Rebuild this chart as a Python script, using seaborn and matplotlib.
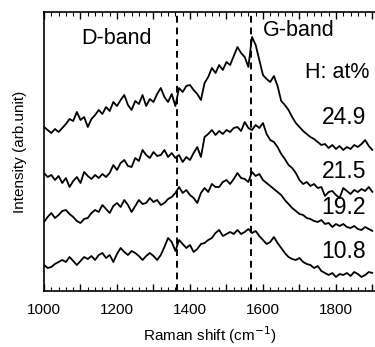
import matplotlib
matplotlib.use("Agg")
import matplotlib.pyplot as plt
import seaborn as sns
import pandas as pd
from matplotlib.ticker import MultipleLocator, FuncFormatter

# Raman shift sample positions (cm^-1), shared by all spectra
wavenumber = [1000, 1010, 1020, 1030, 1040, 1050, 1060, 1070, 1080, 1090,
              1100, 1110, 1120, 1130, 1140, 1150, 1160, 1170, 1180, 1190,
              1200, 1210, 1220, 1230, 1240, 1250, 1260, 1270, 1280, 1290,
              1300, 1310, 1320, 1330, 1340, 1350, 1360, 1370, 1380, 1390,
              1400, 1410, 1420, 1430, 1440, 1450, 1460, 1470, 1480, 1490,
              1500, 1510, 1520, 1530, 1540, 1550, 1560, 1570, 1580, 1590,
              1600, 1610, 1620, 1630, 1640, 1650, 1660, 1670, 1680, 1690,
              1700, 1710, 1720, 1730, 1740, 1750, 1760, 1770, 1780, 1790,
              1800, 1810, 1820, 1830, 1840, 1850, 1860, 1870, 1880, 1890,
              1900]

# intensities (arb. unit, already offset for stacking)
h249 = [164, 161, 158, 162, 159, 163, 167, 172, 170, 179,
        171, 174, 164, 172, 176, 181, 177, 184, 180, 189,
        185, 191, 196, 186, 181, 190, 187, 196, 185, 192,
        189, 197, 203, 194, 189, 197, 185, 203, 199, 205,
        206, 201, 197, 191, 208, 214, 223, 218, 226, 221,
        229, 226, 235, 244, 238, 234, 224, 254, 246, 231,
        216, 212, 209, 215, 205, 190, 186, 181, 174, 168,
        164, 160, 157, 154, 152, 149, 146, 147, 143, 146,
        142, 145, 141, 144, 142, 146, 144, 147, 151, 145,
        141]
h215 = [118, 114, 116, 111, 115, 108, 113, 104, 110, 114,
        108, 119, 115, 112, 116, 113, 117, 114, 118, 126,
        121, 128, 131, 125, 124, 133, 130, 141, 136, 133,
        139, 135, 136, 141, 134, 138, 133, 136, 129, 134,
        131, 138, 144, 134, 154, 157, 161, 156, 160, 157,
        161, 159, 163, 164, 160, 169, 163, 161, 166, 163,
        168, 157, 151, 149, 144, 137, 132, 126, 123, 118,
        111, 107, 109, 105, 107, 103, 104, 95, 99, 100,
        96, 93, 103, 100, 97, 101, 99, 102, 100, 104,
        99]
h192 = [69, 74, 78, 73, 76, 80, 81, 77, 74, 70,
        68, 72, 73, 78, 81, 79, 86, 82, 78, 85,
        88, 84, 91, 86, 79, 85, 91, 87, 88, 93,
        89, 91, 86, 88, 92, 94, 98, 104, 98, 101,
        96, 93, 88, 98, 103, 99, 107, 104, 104, 109,
        111, 107, 112, 118, 113, 112, 109, 119, 115, 117,
        111, 108, 105, 102, 99, 96, 91, 87, 83, 80,
        77, 76, 73, 72, 70, 69, 71, 67, 68, 64,
        67, 65, 67, 64, 63, 65, 62, 61, 64, 62,
        60]
h108 = [26, 23, 24, 27, 29, 31, 29, 34, 30, 26,
        30, 34, 32, 35, 31, 36, 38, 33, 36, 29,
        37, 43, 39, 36, 40, 38, 35, 31, 35, 38,
        35, 31, 36, 44, 53, 49, 40, 51, 47, 43,
        46, 39, 42, 47, 48, 51, 53, 58, 61, 55,
        57, 59, 57, 61, 57, 59, 62, 58, 60, 55,
        51, 47, 49, 54, 48, 43, 38, 34, 32, 31,
        33, 29, 27, 26, 23, 25, 20, 18, 16, 18,
        14, 17, 16, 18, 15, 19, 17, 14, 16, 19,
        18]

labels = ["24.9", "21.5", "19.2", "10.8"]
label_y = [173, 120, 84, 40]
d_band = 1365
g_band = 1566

sns.set_style("ticks")
plt.rcParams['font.family'] = ['Liberation Sans', 'DejaVu Sans']
plt.rcParams.update({"text.color": "black", "axes.labelcolor": "black",
                     "xtick.color": "black", "axes.edgecolor": "black"})

fig = plt.figure(figsize=(3.75, 3.47), dpi=100)
ax = fig.add_axes([44 / 375, 56 / 347, 331 / 375, 279 / 347])

for vals in [h249, h215, h192, h108]:
    df = pd.DataFrame({"wn": wavenumber, "I": vals})
    sns.lineplot(data=df, x="wn", y="I", ax=ax, color="black", lw=1.3)

for pos in [d_band, g_band]:
    ax.axvline(pos, color="black", lw=1.4, ls=(0, (3.5, 2.5)))

ax.set_xlim(1000, 1907)
ax.set_ylim(0, 279)

ax.text(1200, 253, "D-band", fontsize=15.5, ha="center", va="center")
ax.text(1699, 261, "G-band", fontsize=15.5, ha="center", va="center")
ax.text(1803, 218, "H: at%", fontsize=15.5, ha="center", va="center")
for lab, y in zip(labels, label_y):
    ax.text(1822, y, lab, fontsize=16.5, ha="center", va="center")

ax.xaxis.set_major_locator(MultipleLocator(100))
ax.xaxis.set_minor_locator(MultipleLocator(20))
ax.xaxis.set_major_formatter(FuncFormatter(lambda v, p: f"{int(v)}" if int(v) % 200 == 0 else ""))
ax.tick_params(axis="x", which="major", direction="in", length=5, width=1, top=True, labelsize=11, pad=9)
ax.tick_params(axis="x", which="minor", direction="in", length=3, width=0.8, top=True)
ax.set_yticks([])
ax.spines["right"].set_visible(False)
for s in ["left", "bottom", "top"]:
    ax.spines[s].set_linewidth(1.2)

ax.set_xlabel("Raman shift (cm$^{-1}$)", fontsize=11, labelpad=5)
ax.set_ylabel("Intensity (arb.unit)", fontsize=11, labelpad=12)

fig.savefig("out.png", dpi=100)
